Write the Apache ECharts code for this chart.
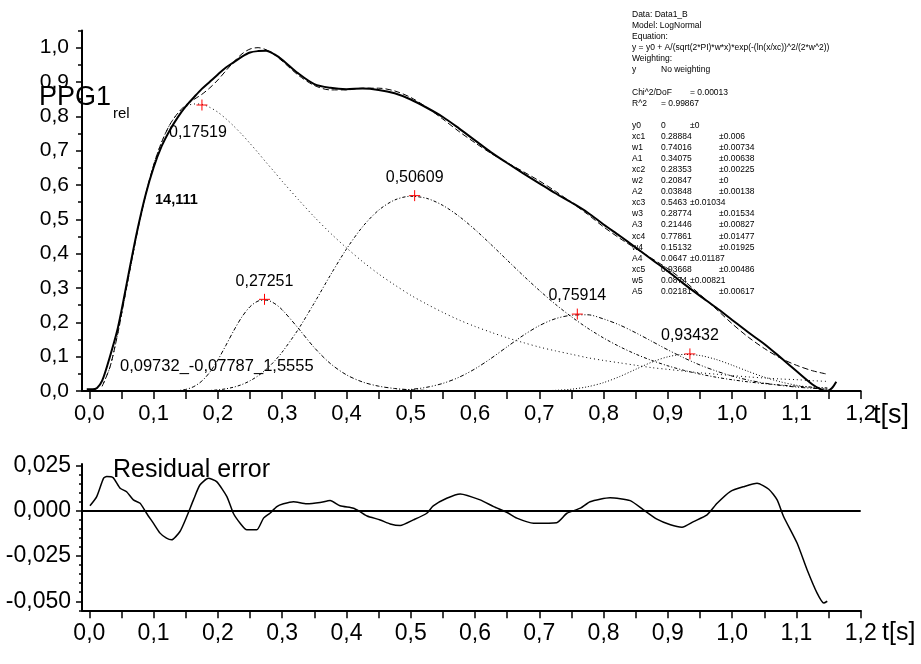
<!DOCTYPE html>
<html>
<head>
<meta charset="utf-8">
<script src="https://cdn.jsdelivr.net/npm/echarts@6/dist/echarts.min.js"></script>
<style>
html,body{margin:0;padding:0;background:#fff;}
#chart{width:921px;height:664px;}
</style>
</head>
<body>
<div id="chart"></div>
<script>
// ---- PPG pulse: measured signal, log-normal fit and its five components ----
const compT = [0.02, 0.032, 0.043, 0.05, 0.0625, 0.075, 0.0875, 0.1, 0.1125, 0.125, 0.1375, 0.15, 0.1625, 0.175, 0.1875, 0.2, 0.2125, 0.225, 0.2375, 0.25, 0.2625, 0.275, 0.2875, 0.3,
  0.325, 0.35, 0.375, 0.4, 0.425, 0.45, 0.475, 0.5, 0.525, 0.55, 0.575, 0.6, 0.625, 0.65, 0.675, 0.7, 0.725, 0.75, 0.775, 0.8, 0.825, 0.85, 0.875, 0.9, 0.925, 0.95, 0.975, 1.0, 1.025, 1.05, 1.075, 1.1, 1.125, 1.148];

const fitY = [0.014, 0.069, 0.156, 0.222, 0.346, 0.466, 0.571, 0.658, 0.725, 0.775, 0.809, 0.833, 0.849, 0.864, 0.883, 0.906, 0.933, 0.959, 0.982, 0.996, 1.000, 0.994, 0.980, 0.961,
  0.920, 0.890, 0.877, 0.877, 0.882, 0.882, 0.874, 0.855, 0.826, 0.792, 0.756, 0.723, 0.692, 0.665, 0.639, 0.612, 0.582, 0.549, 0.515, 0.478, 0.445, 0.415, 0.386, 0.356, 0.321, 0.281, 0.239, 0.196, 0.157, 0.124, 0.096, 0.075, 0.059, 0.049];

const comp1Y = [0.014, 0.069, 0.156, 0.222, 0.346, 0.466, 0.571, 0.658, 0.725, 0.775, 0.808, 0.828, 0.836, 0.835, 0.826, 0.812, 0.793, 0.771, 0.747, 0.721, 0.694, 0.666, 0.639, 0.611,
  0.558, 0.507, 0.460, 0.417, 0.377, 0.341, 0.309, 0.279, 0.253, 0.229, 0.207, 0.188, 0.171, 0.155, 0.141, 0.128, 0.117, 0.107, 0.097, 0.089, 0.082, 0.075, 0.068, 0.063, 0.058, 0.053, 0.049, 0.045, 0.041, 0.038, 0.035, 0.033, 0.030, 0.028];

const comp2Y = [0, 0, 0, 0, 0, 0, 0, 0, 0.0000, 0.0003, 0.0013, 0.0046, 0.0128, 0.0289, 0.0549, 0.0907, 0.1331, 0.1769, 0.2161, 0.2455, 0.2620, 0.2649, 0.2556, 0.2366,
  0.1829, 0.1263, 0.0799, 0.0471, 0.0263, 0.0141, 0.0073, 0.0036, 0.0018, 0.0009, 0.0004, 0.0002, 0, 0, 0, 0, 0, 0, 0, 0, 0, 0, 0, 0, 0, 0, 0, 0, 0, 0, 0, 0, 0, 0];

const comp3Y = [0, 0, 0, 0, 0, 0, 0, 0, 0, 0, 0.0000, 0.0001, 0.0003, 0.0007, 0.0016, 0.0033, 0.0064, 0.0114, 0.0189, 0.0297, 0.0442, 0.0628, 0.0859, 0.1132,
  0.1795, 0.2566, 0.3373, 0.4134, 0.4781, 0.5265, 0.5563, 0.5672, 0.5610, 0.5405, 0.5090, 0.4700, 0.4265, 0.3812, 0.3362, 0.2931, 0.2528, 0.2162, 0.1833, 0.1544, 0.1292, 0.1075, 0.0890, 0.0733, 0.0602, 0.0493, 0.0402, 0.0327, 0.0266, 0.0215, 0.0174, 0.0140, 0.0113, 0.0093];

const comp4Y = [0, 0, 0, 0, 0, 0, 0, 0, 0, 0, 0, 0, 0, 0, 0, 0, 0, 0, 0, 0, 0, 0, 0, 0,
  0, 0, 0, 0, 0, 0.0005, 0.0017, 0.0047, 0.0109, 0.0222, 0.0399, 0.0645, 0.0951, 0.1288, 0.1619, 0.1903, 0.2105, 0.2206, 0.2220, 0.2098, 0.1922, 0.1696, 0.1448, 0.1198, 0.0965, 0.0757, 0.0583, 0.0435, 0.0319, 0.0231, 0.0164, 0.0114, 0.0079, 0.0055];

const comp5Y = [0, 0, 0, 0, 0, 0, 0, 0, 0, 0, 0, 0, 0, 0, 0, 0, 0, 0, 0, 0, 0, 0, 0, 0,
  0, 0, 0, 0, 0, 0, 0, 0, 0, 0, 0, 0, 0, 0, 0, 0.0006, 0.0019, 0.0052, 0.0123, 0.0244, 0.0420, 0.0632, 0.0840, 0.0996, 0.1065, 0.1034, 0.0919, 0.0752, 0.0571, 0.0404, 0.0268, 0.0167, 0.0098, 0.0058];

// measured PPG signal (relative amplitude)
const dataT = [-0.004, 0.005, 0.012, 0.02, 0.032, 0.043, 0.05, 0.0625, 0.075, 0.0875, 0.1, 0.1125, 0.125, 0.1375, 0.15, 0.1625, 0.175, 0.1875, 0.2, 0.2125, 0.225, 0.2375, 0.25, 0.2625, 0.275, 0.2875, 0.3,
  0.325, 0.35, 0.375, 0.4, 0.425, 0.45, 0.475, 0.5, 0.525, 0.55, 0.575, 0.6, 0.625, 0.65, 0.675, 0.7, 0.725, 0.75, 0.775, 0.8, 0.825, 0.85, 0.875, 0.9, 0.925, 0.95, 0.975, 1.0, 1.025, 1.05, 1.075, 1.1, 1.125, 1.14, 1.148, 1.155, 1.162];
const dataY = [0.005, 0.005, 0.009, 0.030, 0.100, 0.173, 0.234, 0.355, 0.471, 0.571, 0.651, 0.713, 0.759, 0.797, 0.829, 0.855, 0.880, 0.901, 0.922, 0.942, 0.958, 0.974, 0.986, 0.990, 0.991, 0.981, 0.965,
  0.925, 0.894, 0.883, 0.879, 0.881, 0.877, 0.867, 0.849, 0.825, 0.798, 0.765, 0.730, 0.695, 0.664, 0.634, 0.605, 0.576, 0.549, 0.520, 0.485, 0.452, 0.418, 0.383, 0.349, 0.312, 0.277, 0.243, 0.207, 0.171, 0.137, 0.098, 0.058, 0.019, 0.003, 0.000, 0.008, 0.027];

// residual (signal minus fit)
const resT = [0.001, 0.0115, 0.022, 0.027, 0.037, 0.048, 0.058, 0.0685, 0.079, 0.089, 0.0996, 0.110, 0.120, 0.128, 0.141, 0.1516, 0.162, 0.172, 0.185, 0.198, 0.214, 0.224, 0.2346, 0.245, 0.2605, 0.271, 0.281, 0.2917, 0.302, 0.3175,
  0.338, 0.359, 0.3746, 0.390, 0.411, 0.421, 0.432, 0.4525, 0.468, 0.4836, 0.504, 0.525, 0.535, 0.556, 0.577, 0.608, 0.629, 0.65, 0.665, 0.691, 0.727, 0.743, 0.764, 0.779, 0.810, 0.8415, 0.862, 0.883, 0.904, 0.922,
  0.940, 0.961, 0.9766, 0.997, 1.018, 1.0388, 1.057, 1.070, 1.080, 1.101, 1.1166, 1.132, 1.1425, 1.148];
const resY = [0.0028, 0.0079, 0.018, 0.019, 0.0184, 0.0125, 0.0106, 0.0061, 0.0042, -0.0013, -0.0068, -0.0123, -0.0151, -0.016, -0.0114, -0.0031, 0.0061, 0.0143, 0.018, 0.0162, 0.0079, -0.0013, -0.0068, -0.0105, -0.0105, -0.004, -0.0013, 0.0024, 0.0039, 0.0051,
  0.0039, 0.0046, 0.0057, 0.0028, 0.0015, -0.0004, -0.0028, -0.005, -0.0072, -0.0081, -0.005, -0.0013, 0.0028, 0.007, 0.0094, 0.0061, 0.0024, -0.0009, -0.004, -0.0068, -0.0065, -0.0013, 0.0015, 0.0051, 0.0073, 0.0057, 0.0006, -0.0046, -0.0077, -0.009,
  -0.0059, -0.0022, 0.0042, 0.0107, 0.0134, 0.0153, 0.012, 0.0061, -0.0031, -0.0178, -0.0326, -0.0454, -0.051, -0.050];

// component peak positions (marked with red crosses)
const peakT = [0.17519, 0.27251, 0.50609, 0.75914, 0.93432];
const peakY = [0.833, 0.267, 0.569, 0.224, 0.108];

// axis ticks and labels
const xTicks = [0, 0.05, 0.1, 0.15, 0.2, 0.25, 0.3, 0.35, 0.4, 0.45, 0.5, 0.55, 0.6, 0.65, 0.7, 0.75, 0.8, 0.85, 0.9, 0.95, 1.0, 1.05, 1.1, 1.15, 1.2];
const xLabels = [0, 0.1, 0.2, 0.3, 0.4, 0.5, 0.6, 0.7, 0.8, 0.9, 1.0, 1.1, 1.2];
const yLabels = [0, 0.1, 0.2, 0.3, 0.4, 0.5, 0.6, 0.7, 0.8, 0.9, 1.0];
const yMinorTicks = [0.05, 0.15, 0.25, 0.35, 0.45, 0.55, 0.65, 0.75, 0.85, 0.95, 1.05];
const resLabels = [-0.05, -0.025, 0, 0.025];
const resMinorTicks = [-0.055, -0.045, -0.04, -0.035, -0.03, -0.02, -0.015, -0.01, -0.005, 0.005, 0.01, 0.015, 0.02];

// fit report
const infoHeader = ['Data: Data1_B', 'Model: LogNormal', 'Equation:', 'y = y0 + A/(sqrt(2*PI)*w*x)*exp(-(ln(x/xc))^2/(2*w^2))', 'Weighting:'];
const infoStats = [['y', 'No weighting'], [], ['Chi^2/DoF', '= 0.00013'], ['R^2', '= 0.99867'], []];
const paramNames = ['y0', 'xc1', 'w1', 'A1', 'xc2', 'w2', 'A2', 'xc3', 'w3', 'A3', 'xc4', 'w4', 'A4', 'xc5', 'w5', 'A5'];
const paramValues = ['0', '0.28884', '0.74016', '0.34075', '0.28353', '0.20847', '0.03848', '0.5463', '0.28774', '0.21446', '0.77861', '0.15132', '0.0647', '0.93668', '0.0874', '0.02181'];
const paramErrors = ['±0', '±0.006', '±0.00734', '±0.00638', '±0.00225', '±0', '±0.00138', '±0.01034', '±0.01534', '±0.00827', '±0.01477', '±0.01925', '±0.01187', '±0.00486', '±0.00821', '±0.00617'];

const FONT = '"Liberation Sans", Arial, Helvetica, sans-serif';
const comma = (v, d) => v.toFixed(d).replace('.', ',');
const pairs = (xs, ys) => xs.map((x, i) => [x, ys[i]]);

// ---- tab-aligned report text ----
const REP_X = 632, REP_TAB = 29, REP_Y0 = 14.8, REP_LH = 11.07, REP_FS = 8.5;
const mctx = document.createElement('canvas').getContext('2d');
mctx.font = REP_FS + 'px ' + FONT;
const reportRows = infoHeader.map(s => [s]).concat(infoStats, paramNames.map((n, i) => [n, paramValues[i], paramErrors[i]]));
const reportGraphics = [];
reportRows.forEach((fields, r) => {
  let pos = REP_X;
  fields.forEach(f => {
    reportGraphics.push({
      type: 'text', x: pos, y: REP_Y0 + r * REP_LH, silent: true,
      style: { text: f, fill: '#000', fontSize: REP_FS, fontFamily: FONT, align: 'left', verticalAlign: 'middle' }
    });
    const end = pos + mctx.measureText(f).width + 1;
    pos = REP_X + Math.ceil((end - REP_X) / REP_TAB + 1e-6) * REP_TAB;
  });
});

const label = (text, x, y, size, extra) => ({
  type: 'text', x: x, y: y, silent: true,
  style: Object.assign({ text: text, fill: '#000', fontSize: size, fontFamily: FONT, align: 'left', verticalAlign: 'middle' }, extra || {})
});

const plusSymbol = 'path://M0,6L12,6M6,0L6,12';

const xAxisBase = (grid, fs) => ({
  type: 'value', gridIndex: grid, min: -0.0114, max: 1.2, position: 'bottom',
  axisLine: { show: true, onZero: false, lineStyle: { color: '#000', width: 2 } },
  axisTick: { show: true, length: 8, customValues: xTicks, lineStyle: { color: '#000', width: 1.5 } },
  axisLabel: { customValues: xLabels, formatter: v => comma(v, 1), fontSize: fs, color: '#000', fontFamily: FONT, margin: 12 },
  splitLine: { show: false }
});

const minorY = (grid, min, max, ticks, len) => ({
  type: 'value', gridIndex: grid, min: min, max: max, position: 'left',
  axisLine: { show: false, onZero: false },
  axisTick: { show: true, length: len, customValues: ticks, lineStyle: { color: '#000', width: 1.5 } },
  axisLabel: { show: false }, splitLine: { show: false }
});

const compStyle = (dash, w) => ({ color: '#000', width: w || 1, type: dash });

const option = {
  animation: false,
  backgroundColor: '#fff',
  grid: [
    { left: 82, top: 30.5, width: 778.7, height: 360.5, containLabel: false, outerBoundsMode: 'none' },
    { left: 82, top: 463.9, width: 778.7, height: 146.4, containLabel: false, outerBoundsMode: 'none' }
  ],
  xAxis: [xAxisBase(0, 22), xAxisBase(1, 23)],
  yAxis: [
    {
      type: 'value', gridIndex: 0, min: 0, max: 1.05, position: 'left',
      axisLine: { show: true, onZero: false, lineStyle: { color: '#000', width: 2 } },
      axisTick: { show: true, length: 6, customValues: yLabels, lineStyle: { color: '#000', width: 1.5 } },
      axisLabel: { customValues: yLabels, formatter: v => comma(v, 1), fontSize: 21, color: '#000', fontFamily: FONT, margin: 13 },
      splitLine: { show: false }
    },
    minorY(0, 0, 1.05, yMinorTicks, 4),
    {
      type: 'value', gridIndex: 1, min: -0.055, max: 0.026, position: 'left',
      axisLine: { show: true, onZero: false, lineStyle: { color: '#000', width: 2 } },
      axisTick: { show: true, length: 6, customValues: resLabels, lineStyle: { color: '#000', width: 1.5 } },
      axisLabel: { customValues: resLabels, formatter: v => comma(v, 3), fontSize: 23, color: '#000', fontFamily: FONT, margin: 11 },
      splitLine: { show: false }
    },
    minorY(1, -0.055, 0.026, resMinorTicks, 3)
  ],
  series: [
    { name: 'PPG1', type: 'line', xAxisIndex: 0, yAxisIndex: 0, data: pairs(dataT, dataY), smooth: 0.3, showSymbol: false, lineStyle: { color: '#000', width: 2 }, z: 5 },
    { name: 'Fit', type: 'line', xAxisIndex: 0, yAxisIndex: 0, data: pairs(compT, fitY), smooth: 0.3, showSymbol: false, lineStyle: compStyle([6, 3]), z: 4 },
    { name: 'Peak 1', type: 'line', xAxisIndex: 0, yAxisIndex: 0, data: pairs(compT, comp1Y), smooth: 0.3, showSymbol: false, lineStyle: compStyle([1, 3]) },
    { name: 'Peak 2', type: 'line', xAxisIndex: 0, yAxisIndex: 0, data: pairs(compT, comp2Y), smooth: 0.3, showSymbol: false, lineStyle: compStyle([4, 2, 1, 2]) },
    { name: 'Peak 3', type: 'line', xAxisIndex: 0, yAxisIndex: 0, data: pairs(compT, comp3Y), smooth: 0.3, showSymbol: false, lineStyle: compStyle([3, 2, 1, 2]) },
    { name: 'Peak 4', type: 'line', xAxisIndex: 0, yAxisIndex: 0, data: pairs(compT, comp4Y), smooth: 0.3, showSymbol: false, lineStyle: compStyle([4, 2, 1, 2, 1, 2]) },
    { name: 'Peak 5', type: 'line', xAxisIndex: 0, yAxisIndex: 0, data: pairs(compT, comp5Y), smooth: 0.3, showSymbol: false, lineStyle: compStyle([1, 2]) },
    {
      name: 'Peaks', type: 'scatter', xAxisIndex: 0, yAxisIndex: 0, z: 10,
      symbol: plusSymbol, symbolSize: 11,
      itemStyle: { color: 'rgba(0,0,0,0)', borderColor: '#ff0000', borderWidth: 1, opacity: 1 },
      label: { show: true, position: 'top', distance: 4, fontSize: 16, color: '#000', opacity: 1, fontFamily: FONT, formatter: p => comma(peakT[p.dataIndex], 5) },
      data: peakT.map((t, i) => i === 0
        ? { value: [t, peakY[i]], label: { position: 'bottom', distance: 14, offset: [-4, 0] } }
        : { value: [t, peakY[i]] })
    },
    {
      name: 'Residual', type: 'line', xAxisIndex: 1, yAxisIndex: 2, data: pairs(resT, resY), smooth: 0.2, showSymbol: false,
      lineStyle: { color: '#000', width: 1.5 },
      markLine: { silent: true, symbol: 'none', label: { show: false }, lineStyle: { color: '#000', width: 2, type: 'solid' }, data: [{ yAxis: 0 }] }
    }
  ],
  graphic: [
    label('PPG1', 39, 98, 27),
    label('rel', 113, 114, 15),
    label('t[s]', 873, 416, 27),
    label('t[s]', 882, 633, 25),
    label('14,111', 155, 200, 14.5, { fontWeight: 'bold' }),
    label('0,09732_-0,07787_1,5555', 120, 366, 16.5),
    label('Residual error', 113, 470, 25)
  ].concat(reportGraphics)
};

const chart = echarts.init(document.getElementById('chart'), null, { renderer: 'canvas' });
chart.setOption(option);
</script>
</body>
</html>
